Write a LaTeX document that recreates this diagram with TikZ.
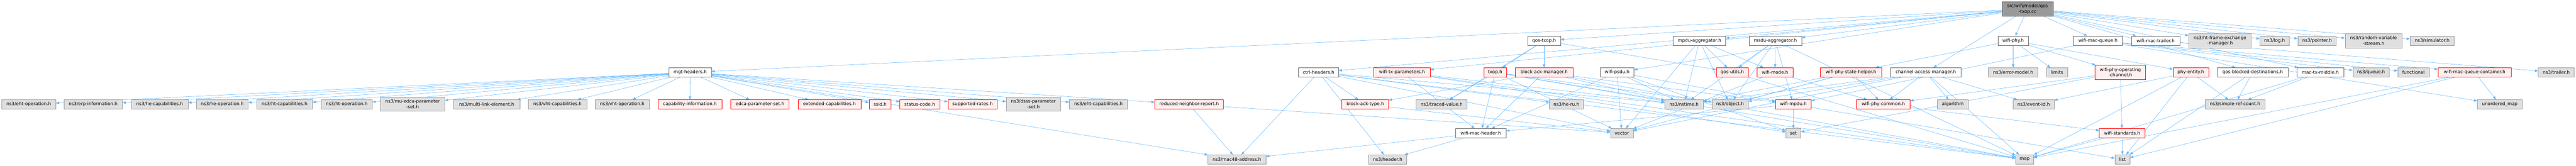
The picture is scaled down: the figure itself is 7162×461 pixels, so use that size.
\documentclass[tikz,border=0pt]{standalone}
\usepackage{fontspec}
\usetikzlibrary{arrows.meta}
\newfontfamily\graphfont{DejaVu Sans}
\definecolor{edgeblue}{RGB}{99,184,255}
\definecolor{truncfill}{RGB}{255,240,240}
\definecolor{sysfill}{RGB}{224,224,224}
\pgfdeclarelayer{background}
\pgfsetlayers{background,main}

\begin{document}
\begin{tikzpicture}[->, >={Triangle[length=9pt,width=7pt]}, x=1pt, y=-1pt,
    every edge/.style={draw=edgeblue, line width=0.8pt}]
    \tikzstyle{file}=[rectangle, draw=black!60, fill=white, line width=0.8pt, inner sep=2pt,
        minimum height=26pt, align=center, font=\graphfont\fontsize{12.5}{15}\selectfont]
    \tikzstyle{root file}=[file, fill=black!40];
    \tikzstyle{trunc file}=[file, draw=red, fill=truncfill];
    \tikzstyle{sys file}=[file, draw=black!40, fill=sysfill];
    \tikzstyle{two lines}=[minimum height=40pt]

    \useasboundingbox (0,0) rectangle (7162,461);

    % The documented file
    \node[root file, two lines, minimum width=142pt] (root) at (5637,25) {src/wifi/model/qos\\-txop.cc};

    % Direct includes
    \node[file, minimum width=92pt] (qostxop) at (4293,113) {qos-txop.h};
    \node[file, minimum width=146pt] (mpduagg) at (4725,113) {mpdu-aggregator.h};
    \node[file, minimum width=146pt] (msduagg) at (4936,113) {msdu-aggregator.h};
    \node[file, minimum width=85pt] (wifiphy) at (5597,113) {wifi-phy.h};
    \node[file, minimum width=136pt] (macqueue) at (5833,113) {wifi-mac-queue.h};
    \node[file, minimum width=135pt] (mactrailer) at (5993,113) {wifi-mac-trailer.h};
    \node[sys file, two lines, minimum width=174pt] (htfem) at (6172,113) {ns3/ht-frame-exchange\\-manager.h};
    \node[sys file, minimum width=82pt] (log) at (6324,113) {ns3/log.h};
    \node[sys file, minimum width=107pt] (pointer) at (6442,113) {ns3/pointer.h};
    \node[sys file, two lines, minimum width=158pt] (rvs) at (6599,113) {ns3/random-variable\\-stream.h};
    \node[sys file, minimum width=123pt] (simulator) at (6762,113) {ns3/simulator.h};

    % Third row
    \node[file, minimum width=118pt] (mgt) at (1919,201) {mgt-headers.h};
    \node[file, minimum width=111pt] (ctrl) at (3666,201) {ctrl-headers.h};
    \node[trunc file, minimum width=157pt] (txparams) at (3898,201) {wifi-tx-parameters.h};
    \node[trunc file, minimum width=63pt] (txop) at (4157,201) {txop.h};
    \node[trunc file, minimum width=160pt] (bam) at (4293,201) {block-ack-manager.h};
    \node[file, minimum width=94pt] (psdu) at (4496,201) {wifi-psdu.h};
    \node[trunc file, minimum width=90pt] (qosutils) at (4816,201) {qos-utils.h};
    \node[trunc file, minimum width=101pt] (wifimode) at (4935,201) {wifi-mode.h};
    \node[trunc file, minimum width=171pt] (statehelper) at (5146,201) {wifi-phy-state-helper.h};
    \node[file, minimum width=197pt] (cam) at (5354,201) {channel-access-manager.h};
    \node[sys file, minimum width=137pt] (errormodel) at (5597,201) {ns3/error-model.h};
    \node[sys file, minimum width=59pt] (limits) at (5719,201) {limits};
    \node[trunc file, two lines, minimum width=141pt] (opchannel) at (5895,201) {wifi-phy-operating\\-channel.h};
    \node[trunc file, minimum width=99pt] (phyentity) at (6091,201) {phy-entity.h};
    \node[file, minimum width=197pt] (qbd) at (6263,201) {qos-blocked-destinations.h};
    \node[file, minimum width=131pt] (mactxmiddle) at (6451,201) {mac-tx-middle.h};
    \node[sys file, minimum width=101pt] (queue) at (6592,201) {ns3/queue.h};
    \node[sys file, minimum width=87pt] (functional) at (6710,201) {functional};
    \node[trunc file, minimum width=204pt] (mqcontainer) at (6880,201) {wifi-mac-queue-container.h};
    \node[sys file, minimum width=100pt] (trailer) at (7107,201) {ns3/trailer.h};

    % Fourth row
    \node[sys file, minimum width=150pt] (ehtop) at (80,290) {ns3/eht-operation.h};
    \node[sys file, minimum width=163pt] (erp) at (259,290) {ns3/erp-information.h};
    \node[sys file, minimum width=158pt] (hecap) at (444,290) {ns3/he-capabilities.h};
    \node[sys file, minimum width=144pt] (heop) at (618,290) {ns3/he-operation.h};
    \node[sys file, minimum width=155pt] (htcap) at (791,290) {ns3/ht-capabilities.h};
    \node[sys file, minimum width=142pt] (htop) at (964,290) {ns3/ht-operation.h};
    \node[sys file, two lines, minimum width=179pt] (muedca) at (1147,289) {ns3/mu-edca-parameter\\-set.h};
    \node[sys file, minimum width=184pt] (mle) at (1353,290) {ns3/multi-link-element.h};
    \node[sys file, minimum width=163pt] (vhtcap) at (1550,290) {ns3/vht-capabilities.h};
    \node[sys file, minimum width=149pt] (vhtop) at (1730,290) {ns3/vht-operation.h};
    \node[trunc file, minimum width=178pt] (capinfo) at (1918,290) {capability-information.h};
    \node[trunc file, minimum width=162pt] (edca) at (2113,290) {edca-parameter-set.h};
    \node[trunc file, minimum width=175pt] (extcap) at (2306,290) {extended-capabilities.h};
    \node[trunc file, minimum width=61pt] (ssid) at (2447,290) {ssid.h};
    \node[trunc file, minimum width=111pt] (status) at (2557,290) {status-code.h};
    \node[trunc file, minimum width=137pt] (rates) at (2704,290) {supported-rates.h};
    \node[sys file, two lines, minimum width=151pt] (dsss) at (2873,289) {ns3/dsss-parameter\\-set.h};
    \node[sys file, minimum width=162pt] (ehtcap) at (3054,290) {ns3/eht-capabilities.h};
    \node[trunc file, minimum width=191pt] (rnr) at (3306,290) {reduced-neighbor-report.h};
    \node[trunc file, minimum width=130pt] (bat) at (3796,290) {block-ack-type.h};
    \node[sys file, minimum width=142pt] (traced) at (4008,290) {ns3/traced-value.h};
    \node[sys file, minimum width=94pt] (heru) at (4355,290) {ns3/he-ru.h};
    \node[sys file, minimum width=107pt] (nstime) at (4682,290) {ns3/nstime.h};
    \node[sys file, minimum width=101pt] (object) at (4810,290) {ns3/object.h};
    \node[trunc file, minimum width=99pt] (mpdu) at (4986,290) {wifi-mpdu.h};
    \node[trunc file, minimum width=149pt] (phycommon) at (5236,290) {wifi-phy-common.h};
    \node[sys file, minimum width=86pt] (algorithm) at (5429,290) {algorithm};
    \node[sys file, minimum width=114pt] (eventid) at (5654,290) {ns3/event-id.h};
    \node[sys file, minimum width=167pt] (simplerc) at (6214,290) {ns3/simple-ref-count.h};
    \node[sys file, minimum width=124pt] (umap) at (6950,290) {unordered\_map};

    % Fifth row
    \node[file, minimum width=141pt] (macheader) at (4117,370) {wifi-mac-header.h};
    \node[sys file, minimum width=63pt] (vector) at (4509,370) {vector};
    \node[sys file, minimum width=42pt] (set) at (4986,370) {set};
    \node[trunc file, minimum width=127pt] (standards) at (5900,370) {wifi-standards.h};

    % Bottom row
    \node[sys file, minimum width=161pt] (mac48) at (3439,443) {ns3/mac48-address.h};
    \node[sys file, minimum width=107pt] (header) at (3858,443) {ns3/header.h};
    \node[sys file, minimum width=50pt] (map) at (5629,443) {map};
    \node[sys file, minimum width=42pt] (list) at (5901,443) {list};

    \begin{pgfonlayer}{background}
    % Connect the documented file with every direct include
    \foreach \dest in {mgt,ctrl,txparams,qostxop,psdu,mpduagg,msduagg,cam,wifiphy,macqueue,
                       mactrailer,htfem,log,pointer,rvs,simulator,qbd,mactxmiddle}
        \path (root) edge (\dest);

    % Connect mgt-headers.h with its elements
    \foreach \dest in {ehtop,erp,hecap,heop,htcap,htop,muedca,mle,vhtcap,vhtop,capinfo,edca,
                       extcap,ssid,status,rates,dsss,ehtcap,rnr,mac48}
        \path (mgt) edge (\dest);

    % The remaining includes
    \foreach \source / \dest in {rnr/mac48, rnr/vector,
            ctrl/bat, ctrl/heru, ctrl/header, ctrl/mac48, ctrl/nstime, ctrl/vector, ctrl/map,
            txparams/macheader, txparams/nstime, txparams/set, txparams/map,
            qostxop/txop, qostxop/bam, qostxop/traced, qostxop/qosutils,
            txop/traced, txop/macheader, txop/vector, txop/nstime, txop/object, txop/map,
            bam/bat, bam/macheader, bam/map, bam/nstime, bam/mpdu,
            psdu/macheader, psdu/vector, psdu/nstime, psdu/mpdu, psdu/set,
            mpduagg/vector, mpduagg/nstime, mpduagg/object, mpduagg/qosutils, mpduagg/wifimode,
            msduagg/nstime, msduagg/object, msduagg/qosutils, msduagg/wifimode, msduagg/mpdu, msduagg/map,
            qosutils/map, wifimode/vector, wifimode/phycommon,
            statehelper/phycommon, statehelper/object, statehelper/nstime, statehelper/vector,
            cam/phycommon, cam/algorithm, cam/eventid, cam/map, cam/vector, cam/object, cam/nstime,
            wifiphy/statehelper, wifiphy/errormodel, wifiphy/limits, wifiphy/opchannel, wifiphy/phyentity,
            macqueue/mpdu, macqueue/queue, macqueue/functional, macqueue/mqcontainer, macqueue/umap,
            mactrailer/trailer,
            opchannel/standards, opchannel/phycommon, opchannel/set,
            phycommon/standards, standards/map, standards/list,
            mpdu/set, mpdu/list, mpdu/macheader,
            phyentity/simplerc, phyentity/eventid, phyentity/map, phyentity/list,
            qbd/simplerc, qbd/list, mactxmiddle/simplerc, mactxmiddle/map,
            mqcontainer/umap, mqcontainer/list, mqcontainer/map,
            macheader/header, macheader/mac48, bat/vector}
        \path (\source) edge (\dest);
    \end{pgfonlayer}
\end{tikzpicture}
\end{document}
